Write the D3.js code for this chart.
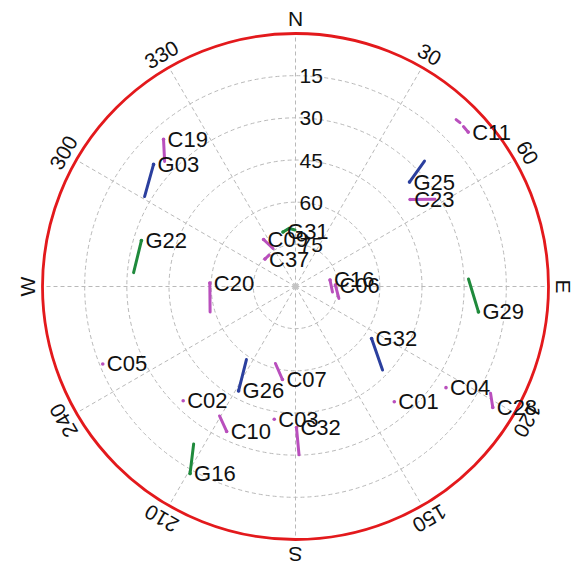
<!DOCTYPE html>
<html>
<head>
<meta charset="utf-8">
<script src="https://cdn.jsdelivr.net/npm/d3@7"></script>
<style>
  html, body { margin: 0; background: #ffffff; }
  svg { display: block; }
  text { font-family: "Liberation Sans", Arial, Helvetica, sans-serif; fill: #111; }
</style>
</head>
<body>
<svg id="sky" width="571" height="569"></svg>
<script>
// Satellite sky plot: tracks in azimuth (deg, clockwise from north) and elevation (deg).
// The last point of each track is the current position, where the label sits.
const satIds = ["G31", "C09", "C37", "C16", "C06", "C20", "C19", "G03", "G22", "C11", "G25", "C23", "G29",
                "G32", "C04", "C01", "C28", "C05", "G26", "C07", "C02", "C10", "C03", "C32", "G16"];
const satGroups = ["gpsB", "bds", "bds", "bds", "bds", "bds", "bds", "gpsA", "gpsB", "bds", "gpsA", "bds", "gpsB",
                   "gpsA", "bds", "bds", "bds", "bds", "gpsA", "bds", "bds", "bds", "bds", "bds", "gpsB"];
const satAzimuths = [
  [359.5, 353.6, 347.1],
  [329.4, 325.8],
  [319.9, 312.0],
  [98.5, 79.3],
  [105.4, 87.9],
  [253.4, 272.3],
  [313.7, 318.1],
  [300.8, 310.7],
  [274.9, 286.6],
  [43.9, 45.1, null, 46.4, 48.2],
  [45.8, 47.5],
  [58.0, 52.8],
  [87.5, 97.9],
  [133.8, 124.4],
  [123.9],
  [139.4],
  [118.7, 121.5],
  [248.1],
  [213.9, 208.6],
  [194.6, 188.0],
  [224.5],
  [210.4, 205.4],
  [189.1],
  [178.8, 179.6],
  [212.9, 209.4]
];
const satElevations = [
  [69.9, 69.2, 70.1],
  [74.3, 69.8],
  [75.4, 75.4],
  [76.7, 77.5],
  [74.0, 75.8],
  [58.3, 59.5],
  [25.6, 19.7],
  [27.5, 23.4],
  [32.2, 32.8],
  [7.6, 7.4, null, 7.5, 7.6],
  [26.0, 35.0],
  [31.5, 38.8],
  [28.4, 24.3],
  [47.1, 57.2],
  [25.5],
  [36.0],
  [10.9, 7.7],
  [16.1],
  [58.7, 47.7],
  [61.7, 56.6],
  [33.0],
  [36.6, 32.9],
  [42.2],
  [30.1, 39.8],
  [23.3, 13.6]
];
const groupColors = { bds: "#b94fbd", gpsA: "#2b3f9e", gpsB: "#1f8a3c" };

const elevationTicks = [15, 30, 45, 60, 75];
const azimuthTicks = [0, 30, 60, 90, 120, 150, 180, 210, 240, 270, 300, 330];
const azimuthLabels = ["N", "30", "60", "E", "120", "150", "S", "210", "240", "W", "300", "330"];

// Layout
const cx = 295.5, cy = 286.5, R = 253;
const svg = d3.select("#sky");
const g = svg.append("g").attr("transform", `translate(${cx},${cy})`);

// elevation 90 at the centre, 0 on the horizon ring
const rScale = d3.scaleLinear().domain([90, 0]).range([0, R]);
const rad = d => d * Math.PI / 180;
const px = (az, el) => rScale(el) * Math.sin(rad(az));
const py = (az, el) => -rScale(el) * Math.cos(rad(az));

// dashed grid: elevation rings and azimuth spokes
g.selectAll("circle.ring").data(elevationTicks).join("circle")
  .attr("class", "ring")
  .attr("r", d => rScale(d))
  .attr("fill", "none").attr("stroke", "#b9b9b9")
  .attr("stroke-width", 1).attr("stroke-dasharray", "4,3");

g.selectAll("line.spoke").data(azimuthTicks).join("line")
  .attr("class", "spoke")
  .attr("x1", 0).attr("y1", 0)
  .attr("x2", d => px(d, 0)).attr("y2", d => py(d, 0))
  .attr("stroke", "#b9b9b9").attr("stroke-width", 1).attr("stroke-dasharray", "4,3");

g.append("circle").attr("r", 3).attr("fill", "#c4c4c4");

// horizon
g.append("circle").attr("r", rScale(0))
  .attr("fill", "none").attr("stroke", "#e3191c").attr("stroke-width", 2.8);

// elevation tick labels along the north spoke
g.selectAll("text.elev").data(elevationTicks).join("text")
  .attr("class", "elev")
  .attr("x", 4).attr("y", d => -rScale(d))
  .attr("dominant-baseline", "central")
  .attr("font-size", 21)
  .text(d => d);

// azimuth labels outside the horizon, rotated with their bearing
const labelR = R + 15;
g.selectAll("text.az").data(azimuthTicks).join("text")
  .attr("class", "az")
  .attr("transform", (d) => `translate(${labelR * Math.sin(rad(d))},${-labelR * Math.cos(rad(d))}) rotate(${d})`)
  .attr("text-anchor", "middle")
  .attr("dominant-baseline", "central")
  .attr("font-size", 21)
  .text((d, i) => azimuthLabels[i]);

// satellite tracks
const line = d3.line()
  .defined(p => p[0] !== null)
  .x(p => px(p[0], p[1]))
  .y(p => py(p[0], p[1]));

const sats = satIds.map((id, i) => ({
  id,
  color: groupColors[satGroups[i]],
  pts: satAzimuths[i].map((az, j) => [az, satElevations[i][j]])
}));

const trackG = g.append("g");
sats.forEach(s => {
  if (s.pts.length > 1) {
    trackG.append("path")
      .attr("d", line(s.pts))
      .attr("fill", "none").attr("stroke", s.color)
      .attr("stroke-width", 3).attr("stroke-linecap", "round");
  }
  const last = s.pts[s.pts.length - 1];
  trackG.append("circle")
    .attr("cx", px(last[0], last[1])).attr("cy", py(last[0], last[1]))
    .attr("r", 1.8).attr("fill", s.color);
});

// satellite labels beside the current position
g.append("g").selectAll("text").data(sats).join("text")
  .attr("x", s => { const p = s.pts[s.pts.length - 1]; return px(p[0], p[1]) + 4; })
  .attr("y", s => { const p = s.pts[s.pts.length - 1]; return py(p[0], p[1]) + 7.5; })
  .attr("font-size", 22)
  .text(s => s.id);
</script>
</body>
</html>
